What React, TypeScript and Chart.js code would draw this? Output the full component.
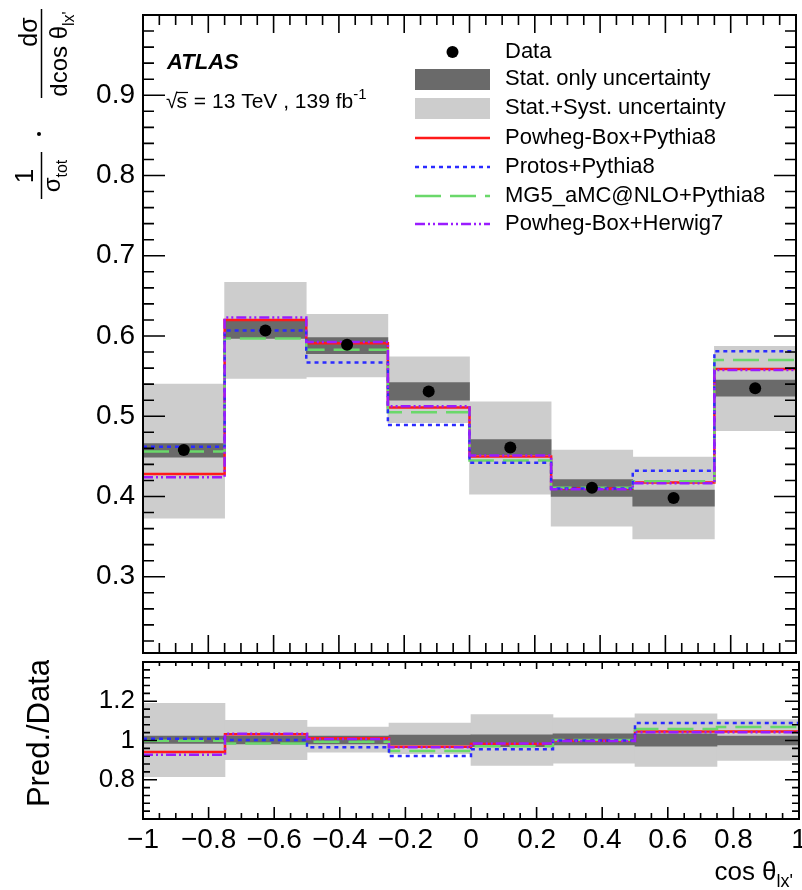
import React, { useEffect, useRef } from "react";
import { Chart, registerables } from "chart.js";

Chart.register(...registerables);

// ---------------- data ----------------
const binEdges = [-1, -0.75, -0.5, -0.25, 0, 0.25, 0.5, 0.75, 1];

const dataValues = [0.458, 0.607, 0.589, 0.531, 0.461, 0.411, 0.398, 0.535];
const statLow = [0.449, 0.597, 0.578, 0.52, 0.452, 0.4, 0.388, 0.525];
const statHigh = [0.466, 0.619, 0.598, 0.542, 0.471, 0.421, 0.408, 0.545];
const systLow = [0.373, 0.547, 0.549, 0.492, 0.403, 0.363, 0.347, 0.482];
const systHigh = [0.54, 0.667, 0.627, 0.574, 0.518, 0.458, 0.449, 0.587];

const powhegPythia = [0.428, 0.62, 0.591, 0.511, 0.45, 0.41, 0.4175, 0.559];
const protosPythia = [0.462, 0.607, 0.567, 0.489, 0.442, 0.41, 0.432, 0.581];
const mg5Pythia = [0.456, 0.597, 0.583, 0.505, 0.445, 0.411, 0.419, 0.57];
const powhegHerwig = [0.424, 0.623, 0.5925, 0.5125, 0.451, 0.409, 0.4165, 0.5575];

const ratioStatLow = [0.985, 0.983, 0.983, 0.978, 0.968, 0.977, 0.971, 0.977];
const ratioStatHigh = [1.023, 1.023, 1.023, 1.027, 1.029, 1.034, 1.034, 1.023];
const ratioSystLow = [0.816, 0.902, 0.94, 0.933, 0.873, 0.885, 0.868, 0.899];
const ratioSystHigh = [1.19, 1.103, 1.069, 1.089, 1.132, 1.115, 1.136, 1.106];

const ratioPowhegPythia = [0.942, 1.032, 1.011, 0.968, 0.982, 0.999, 1.046, 1.046];
const ratioProtosPythia = [1.009, 1.003, 0.965, 0.921, 0.956, 1.0, 1.089, 1.089];
const ratioMg5Pythia = [0.999, 0.985, 0.994, 0.947, 0.971, 1.002, 1.058, 1.069];
const ratioPowhegHerwig = [0.928, 1.034, 1.008, 0.965, 0.985, 0.998, 1.042, 1.042];

const mainYTickLabels = [0.3, 0.4, 0.5, 0.6, 0.7, 0.8, 0.9];
const ratioYTickLabels = [0.8, 1, 1.2];
const xTickLabels = [-1, -0.8, -0.6, -0.4, -0.2, 0, 0.2, 0.4, 0.6, 0.8, 1];

const modelLabels = [
  "Powheg-Box+Pythia8",
  "Protos+Pythia8",
  "MG5_aMC@NLO+Pythia8",
  "Powheg-Box+Herwig7",
];

// ---------------- styles ----------------
const FONT = '"Liberation Sans", Arial, Helvetica, sans-serif';
const DARK = "#6a6a6a";
const LIGHT = "#cdcdcd";
const modelStyles = [
  { color: "#ff1a1a", dash: [] as number[], order: 4 },
  { color: "#2b2bff", dash: [4, 4], order: 2 },
  { color: "#6ad86a", dash: [26, 9], order: 3 },
  { color: "#9a1cff", dash: [10, 3, 2, 3, 2, 3], order: 1 },
];

const binCenters = binEdges.slice(0, -1).map((e, i) => (e + binEdges[i + 1]) / 2);

function stepPoints(values: number[]) {
  const pts = values.map((v, i) => ({ x: binEdges[i], y: v }));
  pts.push({ x: binEdges[binEdges.length - 1], y: values[values.length - 1] });
  return pts;
}
function bandPoints(lo: number[], hi: number[]) {
  return binCenters.map((c, i) => ({ x: c, y: [lo[i], hi[i]] }));
}

function buildDatasets(
  sLo: number[], sHi: number[], yLo: number[], yHi: number[],
  models: number[][], points: number[] | null
) {
  const ds: any[] = [];
  if (points) {
    ds.push({
      type: "scatter",
      data: binCenters.map((c, i) => ({ x: c, y: points[i] })),
      xAxisID: "x",
      yAxisID: "y",
      showLine: false,
      pointRadius: 6,
      pointBackgroundColor: "#000",
      pointBorderWidth: 0,
      order: 0,
    });
  }
  models.forEach((m, k) => {
    const st = modelStyles[k];
    ds.push({
      type: "line",
      data: stepPoints(m),
      xAxisID: "x",
      yAxisID: "y",
      stepped: "before",
      borderColor: st.color,
      borderWidth: 2.5,
      borderDash: st.dash,
      pointRadius: 0,
      fill: false,
      order: st.order,
    });
  });
  ds.push({
    type: "bar",
    data: bandPoints(sLo, sHi),
    xAxisID: "xb",
    yAxisID: "y",
    backgroundColor: DARK,
    borderWidth: 0,
    grouped: false,
    barPercentage: 1,
    categoryPercentage: 1,
    order: 5,
  });
  ds.push({
    type: "bar",
    data: bandPoints(yLo, yHi),
    xAxisID: "xb",
    yAxisID: "y",
    backgroundColor: LIGHT,
    borderWidth: 0,
    grouped: false,
    barPercentage: 1,
    categoryPercentage: 1,
    order: 6,
  });
  return ds;
}

type Part = { t: string; size: number; dy?: number; weight?: string; style?: string; gap?: number };

function fontOf(p: Part) {
  return `${p.style || "normal"} ${p.weight || "normal"} ${p.size}px ${FONT}`;
}

function drawRich(ctx: CanvasRenderingContext2D, parts: Part[], x: number, y: number, align: string, rotate: boolean) {
  ctx.save();
  ctx.translate(x, y);
  if (rotate) ctx.rotate(-Math.PI / 2);
  ctx.textBaseline = "alphabetic";
  ctx.textAlign = "left";
  ctx.fillStyle = "#000";
  let total = 0;
  for (const p of parts) {
    ctx.font = fontOf(p);
    total += ctx.measureText(p.t).width + (p.gap || 0);
  }
  let cx = align === "center" ? -total / 2 : align === "right" ? -total : 0;
  for (const p of parts) {
    ctx.font = fontOf(p);
    ctx.fillText(p.t, cx, p.dy || 0);
    cx += ctx.measureText(p.t).width + (p.gap || 0);
  }
  ctx.restore();
}

type TickSpec = { step: number; len: number; lenTop?: number };

function drawFrameTicks(chart: any, xs: TickSpec[], ys: TickSpec[]) {
  const { ctx, chartArea: a, scales } = chart;
  const xScale = scales.x;
  const yScale = scales.y;
  ctx.save();
  ctx.strokeStyle = "#000";
  ctx.lineWidth = 1.6;
  ctx.beginPath();
  for (const spec of xs) {
    const n = Math.round((xScale.max - xScale.min) / spec.step);
    for (let i = 0; i <= n; i++) {
      const v = xScale.min + i * spec.step;
      const p = xScale.getPixelForValue(v);
      if (p < a.left + 1 || p > a.right - 1) continue;
      ctx.moveTo(p, a.bottom);
      ctx.lineTo(p, a.bottom - spec.len);
      ctx.moveTo(p, a.top);
      ctx.lineTo(p, a.top + (spec.lenTop ?? spec.len));
    }
  }
  for (const spec of ys) {
    const start = Math.ceil(yScale.min / spec.step - 1e-6);
    const end = Math.floor(yScale.max / spec.step + 1e-6);
    for (let i = start; i <= end; i++) {
      const v = i * spec.step;
      const p = yScale.getPixelForValue(v);
      if (p < a.top + 1 || p > a.bottom - 1) continue;
      ctx.moveTo(a.left, p);
      ctx.lineTo(a.left + spec.len, p);
      ctx.moveTo(a.right, p);
      ctx.lineTo(a.right - spec.len, p);
    }
  }
  ctx.stroke();
  ctx.lineWidth = 2;
  ctx.strokeRect(a.left, a.top, a.right - a.left, a.bottom - a.top);
  ctx.restore();
}

const mainDecor = {
  id: "mainDecor",
  afterDraw(chart: any) {
    const ctx: CanvasRenderingContext2D = chart.ctx;
    drawFrameTicks(chart, [{ step: 0.05, len: 10 }, { step: 0.2, len: 18 }], [{ step: 0.02, len: 11 }, { step: 0.1, len: 22 }]);

    ctx.save();
    // ATLAS label
    drawRich(ctx, [{ t: "ATLAS", size: 22, weight: "bold", style: "italic" }], 167, 69, "left", false);
    // sqrt(s) line
    ctx.font = `21px ${FONT}`;
    ctx.fillStyle = "#000";
    ctx.strokeStyle = "#000";
    ctx.textBaseline = "alphabetic";
    ctx.textAlign = "left";
    const sqrtW = ctx.measureText("\u221A").width;
    const sW = ctx.measureText("s").width;
    ctx.fillText("\u221A", 166, 108);
    ctx.fillText("s", 166 + sqrtW - 1, 108);
    ctx.lineWidth = 1.2;
    ctx.beginPath();
    ctx.moveTo(166 + sqrtW - 1.5, 92.5);
    ctx.lineTo(166 + sqrtW + sW, 92.5);
    ctx.stroke();
    drawRich(
      ctx,
      [
        { t: " = 13 TeV , 139 fb", size: 21 },
        { t: "-1", size: 15, dy: -9 },
      ],
      166 + sqrtW + sW,
      108,
      "left",
      false
    );

    // legend
    const bx0 = 415;
    const bx1 = 490;
    const tx = 505;
    const rows = [52, 79, 108, 138, 167, 196, 224];
    const labels = ["Data", "Stat. only uncertainty", "Stat.+Syst. uncertainty", ...modelLabels];
    ctx.fillStyle = "#000";
    ctx.beginPath();
    ctx.arc((bx0 + bx1) / 2, rows[0], 6, 0, Math.PI * 2);
    ctx.fill();
    ctx.fillStyle = DARK;
    ctx.fillRect(bx0, rows[1] - 10, bx1 - bx0, 21);
    ctx.fillStyle = LIGHT;
    ctx.fillRect(bx0, rows[2] - 10, bx1 - bx0, 21);
    modelStyles.forEach((st, k) => {
      const y = rows[3 + k];
      ctx.strokeStyle = st.color;
      ctx.lineWidth = 2.5;
      ctx.setLineDash(st.dash);
      ctx.beginPath();
      ctx.moveTo(bx0, y);
      ctx.lineTo(bx1, y);
      ctx.stroke();
    });
    ctx.setLineDash([]);
    ctx.fillStyle = "#000";
    ctx.font = `22px ${FONT}`;
    ctx.textBaseline = "middle";
    ctx.textAlign = "left";
    labels.forEach((l, i) => ctx.fillText(l, tx, rows[i]));

    // y-axis title: 1/sigma_tot . dsigma/dcos theta
    ctx.strokeStyle = "#000";
    ctx.lineWidth = 1.5;
    drawRich(ctx, [{ t: "1", size: 26 }], 33, 176, "center", true);
    ctx.beginPath();
    ctx.moveTo(41.5, 152);
    ctx.lineTo(41.5, 199);
    ctx.stroke();
    drawRich(ctx, [{ t: "\u03C3", size: 24 }, { t: "tot", size: 16, dy: 7 }], 60, 176, "center", true);
    ctx.beginPath();
    ctx.arc(39, 134, 2, 0, Math.PI * 2);
    ctx.fill();
    drawRich(ctx, [{ t: "d\u03C3", size: 25 }], 37, 32, "center", true);
    ctx.beginPath();
    ctx.moveTo(41.5, 9);
    ctx.lineTo(41.5, 98);
    ctx.stroke();
    drawRich(ctx, [{ t: "dcos \u03B8", size: 24 }, { t: "lx'", size: 16, dy: 7 }], 67, 54, "center", true);
    ctx.restore();
  },
};

const ratioDecor = {
  id: "ratioDecor",
  afterDraw(chart: any) {
    const ctx: CanvasRenderingContext2D = chart.ctx;
    drawFrameTicks(
      chart,
      [{ step: 0.05, len: 6, lenTop: 4 }, { step: 0.2, len: 12, lenTop: 7 }],
      [{ step: 0.04, len: 7 }, { step: 0.2, len: 14 }]
    );
    drawRich(ctx, [{ t: "Pred./Data", size: 31 }], 49, 73, "center", true);
    drawRich(ctx, [{ t: "cos \u03B8", size: 26 }, { t: "lx'", size: 18, dy: 7 }], 793, 220, "right", false);
  },
};

function fmtNum(v: number) {
  const r = Math.round(v * 10) / 10;
  if (r === 0) return "0";
  const s = String(Math.abs(r));
  return r < 0 ? "\u2212" + s : s;
}

function zeroPad(s: any) {
  s.paddingTop = 0;
  s.paddingBottom = 0;
  s.paddingLeft = 0;
  s.paddingRight = 0;
}

export default function App() {
  const mainRef = useRef<HTMLCanvasElement>(null);
  const ratioRef = useRef<HTMLCanvasElement>(null);

  useEffect(() => {
    const common = {
      responsive: false,
      animation: false,
      events: [],
      plugins: { legend: { display: false }, tooltip: { enabled: false } },
    };
    const hiddenX = (extra: any = {}) => ({
      type: "linear",
      min: -1,
      max: 1,
      offset: false,
      display: false,
      afterFit: zeroPad,
      ...extra,
    });
    const mainChart = new Chart(mainRef.current as HTMLCanvasElement, {
      type: "line",
      data: {
        datasets: buildDatasets(statLow, statHigh, systLow, systHigh,
          [powhegPythia, protosPythia, mg5Pythia, powhegHerwig], dataValues),
      },
      options: {
        ...common,
        layout: { padding: { top: 15, right: 3, bottom: 7, left: 0 } },
        scales: {
          x: hiddenX(),
          xb: hiddenX({ ticks: { stepSize: 0.25 } }),
          y: {
            type: "linear",
            min: 0.205,
            max: 1.0,
            offset: false,
            grid: { display: false, drawTicks: false },
            border: { display: false },
            ticks: {
              font: { family: FONT, size: 28 },
              color: "#000",
              padding: 8,
              callback: (v: any) => Number(v).toFixed(1),
            },
            afterBuildTicks: (s: any) => {
              s.ticks = mainYTickLabels.map((v) => ({ value: v }));
            },
            afterFit: (s: any) => {
              s.width = 143;
              zeroPad(s);
            },
          },
        },
      } as any,
      plugins: [mainDecor],
    } as any);

    const ratioChart = new Chart(ratioRef.current as HTMLCanvasElement, {
      type: "line",
      data: {
        datasets: buildDatasets(ratioStatLow, ratioStatHigh, ratioSystLow, ratioSystHigh,
          [ratioPowhegPythia, ratioProtosPythia, ratioMg5Pythia, ratioPowhegHerwig], null),
      },
      options: {
        ...common,
        layout: { padding: { top: 2, right: 3, bottom: 0, left: 0 } },
        scales: {
          x: {
            type: "linear",
            min: -1,
            max: 1,
            offset: false,
            grid: { display: false, drawTicks: false },
            border: { display: false },
            ticks: {
              font: { family: FONT, size: 28 },
              color: "#000",
              padding: 4,
              autoSkip: false,
              maxRotation: 0,
              callback: (v: any) => fmtNum(Number(v)),
            },
            afterBuildTicks: (s: any) => {
              s.ticks = xTickLabels.map((v) => ({ value: v }));
            },
            afterFit: (s: any) => {
              s.height = 71;
              zeroPad(s);
            },
          },
          xb: hiddenX({ ticks: { stepSize: 0.25 } }),
          y: {
            type: "linear",
            min: 0.6,
            max: 1.4,
            offset: false,
            grid: { display: false, drawTicks: false },
            border: { display: false },
            ticks: {
              font: { family: FONT, size: 26 },
              color: "#000",
              padding: 8,
              callback: (v: any) => fmtNum(Number(v)),
            },
            afterBuildTicks: (s: any) => {
              s.ticks = ratioYTickLabels.map((v) => ({ value: v }));
            },
            afterFit: (s: any) => {
              s.width = 143;
              zeroPad(s);
            },
          },
        },
      } as any,
      plugins: [ratioDecor],
    } as any);

    return () => {
      mainChart.destroy();
      ratioChart.destroy();
    };
  }, []);

  return (
    <div style={{ position: "absolute", left: 0, top: 0, width: 802, height: 890, background: "#fff" }}>
      <canvas
        ref={mainRef}
        width={802}
        height={660}
        style={{ position: "absolute", left: 0, top: 0, width: 802, height: 660 }}
      />
      <canvas
        ref={ratioRef}
        width={802}
        height={230}
        style={{ position: "absolute", left: 0, top: 660, width: 802, height: 230 }}
      />
    </div>
  );
}
